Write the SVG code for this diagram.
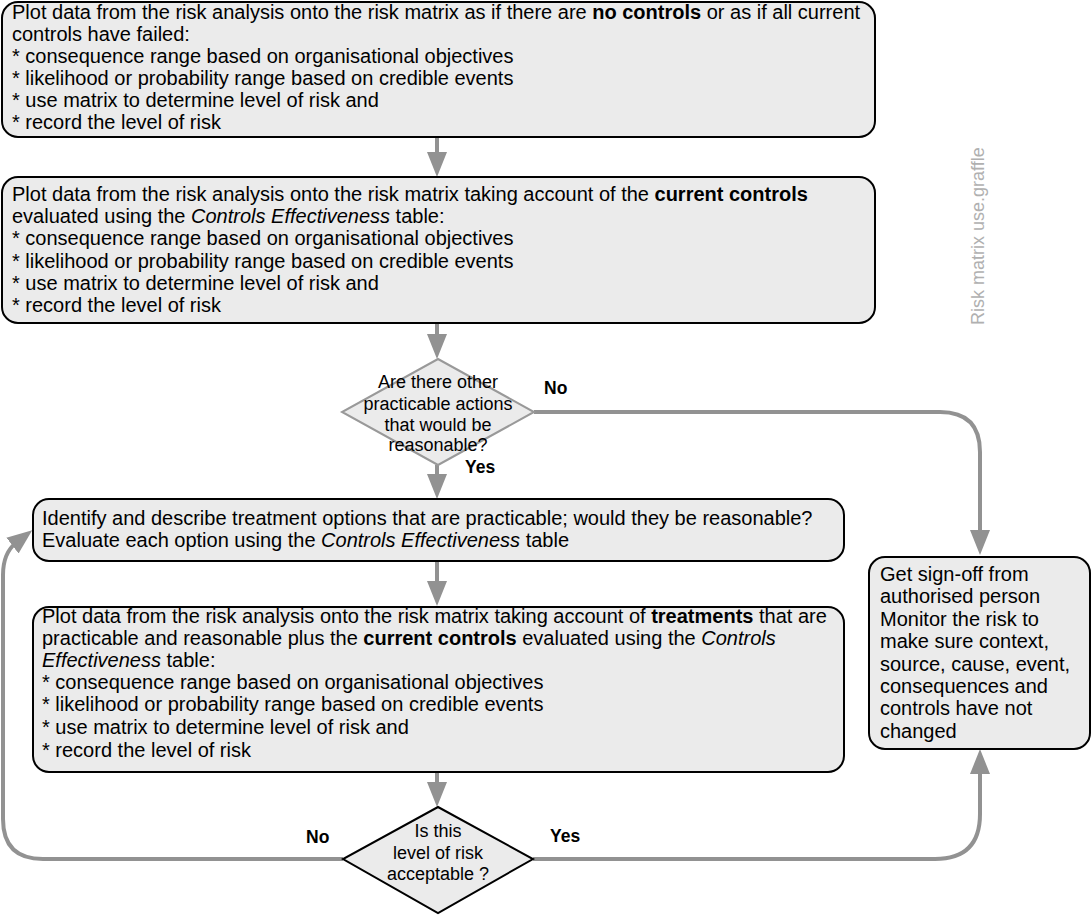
<svg xmlns="http://www.w3.org/2000/svg" width="1092" height="916" viewBox="0 0 1092 916">
<style>
.box{fill:#ebebeb;stroke:#000;stroke-width:2}
.t{font-family:"Liberation Sans",Arial,sans-serif;font-size:20px;fill:#000}
.d{font-family:"Liberation Sans",Arial,sans-serif;font-size:18px;fill:#000;text-anchor:middle}
.lbl{font-family:"Liberation Sans",Arial,sans-serif;font-size:17.5px;font-weight:bold;fill:#000}
.b{font-weight:bold}
.i{font-style:italic}
.c{fill:none;stroke:#929292;stroke-width:4}
.wm{font-family:"Liberation Sans",Arial,sans-serif;font-size:18px;fill:#b0b0b0}
</style>
<defs>
<marker id="ah" markerUnits="userSpaceOnUse" markerWidth="26" markerHeight="20" refX="5" refY="10" orient="auto">
<path d="M0,0 L25,10 L0,20 z" fill="#929292"/>
</marker>
</defs>
<rect width="1092" height="916" fill="#fff"/>
<g id="connectors">
<path class="c" d="M437,137 V157" marker-end="url(#ah)"/>
<path class="c" d="M437,323 V339" marker-end="url(#ah)"/>
<path class="c" d="M437,465 V479" marker-end="url(#ah)"/>
<path class="c" d="M437,561 V586" marker-end="url(#ah)"/>
<path class="c" d="M437,772 V787" marker-end="url(#ah)"/>
<path class="c" d="M534,412 H940 Q980,412 980,452 V535" marker-end="url(#ah)"/>
<path class="c" d="M533,859 H935 Q980,859 980,814 V769" marker-end="url(#ah)"/>
<path class="c" d="M343,859 H43 Q3,859 3,819 V575 C3,558 8,549 16.4,542.5" marker-end="url(#ah)"/>
</g>
<g id="label-no1"><text class="lbl" x="544" y="394">No</text></g>
<g id="label-yes1"><text class="lbl" x="465" y="473">Yes</text></g>
<g id="label-no2"><text class="lbl" x="306" y="843">No</text></g>
<g id="label-yes2"><text class="lbl" x="550" y="842">Yes</text></g>
<g id="box1">
<rect class="box" x="2" y="2" width="873" height="135" rx="16"/>
<text class="t" x="12" y="19">Plot data from the risk analysis onto the risk matrix as if there are <tspan class="b">no controls</tspan> or as if all current</text>
<text class="t" x="12" y="41">controls have failed:</text>
<text class="t" x="12" y="63">* consequence range based on organisational objectives</text>
<text class="t" x="12" y="85">* likelihood or probability range based on credible events</text>
<text class="t" x="12" y="107">* use matrix to determine level of risk and</text>
<text class="t" x="12" y="129">* record the level of risk</text>
</g>
<g id="box2">
<rect class="box" x="2" y="177" width="873" height="146" rx="16"/>
<text class="t" x="12" y="201">Plot data from the risk analysis onto the risk matrix taking account of the <tspan class="b">current controls</tspan></text>
<text class="t" x="12" y="223">evaluated using the <tspan class="i">Controls Effectiveness</tspan> table:</text>
<text class="t" x="12" y="245">* consequence range based on organisational objectives</text>
<text class="t" x="12" y="268">* likelihood or probability range based on credible events</text>
<text class="t" x="12" y="290">* use matrix to determine level of risk and</text>
<text class="t" x="12" y="312">* record the level of risk</text>
</g>
<g id="decision1">
<polygon points="438,359 534,412 438,465 342,412" fill="#ebebeb" stroke="#999" stroke-width="2"/>
<text class="d" x="438" y="388">Are there other</text>
<text class="d" x="438" y="410">practicable actions</text>
<text class="d" x="438" y="431">that would be</text>
<text class="d" x="438" y="451">reasonable?</text>
</g>
<g id="box3">
<rect class="box" x="33" y="499" width="811" height="62" rx="16"/>
<text class="t" x="42" y="525">Identify and describe treatment options that are practicable; would they be reasonable?</text>
<text class="t" x="42" y="547">Evaluate each option using the <tspan class="i">Controls Effectiveness</tspan> table</text>
</g>
<g id="box4">
<rect class="box" x="33" y="607" width="811" height="165" rx="16"/>
<text class="t" x="42" y="623">Plot data from the risk analysis onto the risk matrix taking account of <tspan class="b">treatments</tspan> that are</text>
<text class="t" x="42" y="645">practicable and reasonable plus the <tspan class="b">current controls</tspan> evaluated using the <tspan class="i">Controls</tspan></text>
<text class="t" x="42" y="667"><tspan class="i">Effectiveness</tspan> table:</text>
<text class="t" x="42" y="689">* consequence range based on organisational objectives</text>
<text class="t" x="42" y="711">* likelihood or probability range based on credible events</text>
<text class="t" x="42" y="734">* use matrix to determine level of risk and</text>
<text class="t" x="42" y="757">* record the level of risk</text>
</g>
<g id="decision2">
<polygon points="438,807 533,859 438,913 343,859" fill="#ebebeb" stroke="#000" stroke-width="2"/>
<text class="d" x="438" y="837">Is this</text>
<text class="d" x="438" y="859">level of risk</text>
<text class="d" x="438" y="880">acceptable ?</text>
</g>
<g id="box5">
<rect class="box" x="869" y="557" width="221" height="192" rx="16"/>
<text class="t" x="880" y="581">Get sign-off from</text>
<text class="t" x="880" y="603">authorised person</text>
<text class="t" x="880" y="626">Monitor the risk to</text>
<text class="t" x="880" y="648">make sure context,</text>
<text class="t" x="880" y="671">source, cause, event,</text>
<text class="t" x="880" y="693">consequences and</text>
<text class="t" x="880" y="715">controls have not</text>
<text class="t" x="880" y="738">changed</text>
</g>
<g id="watermark"><text class="wm" transform="translate(984,325) rotate(-90)">Risk matrix use.graffle</text></g>
</svg>
